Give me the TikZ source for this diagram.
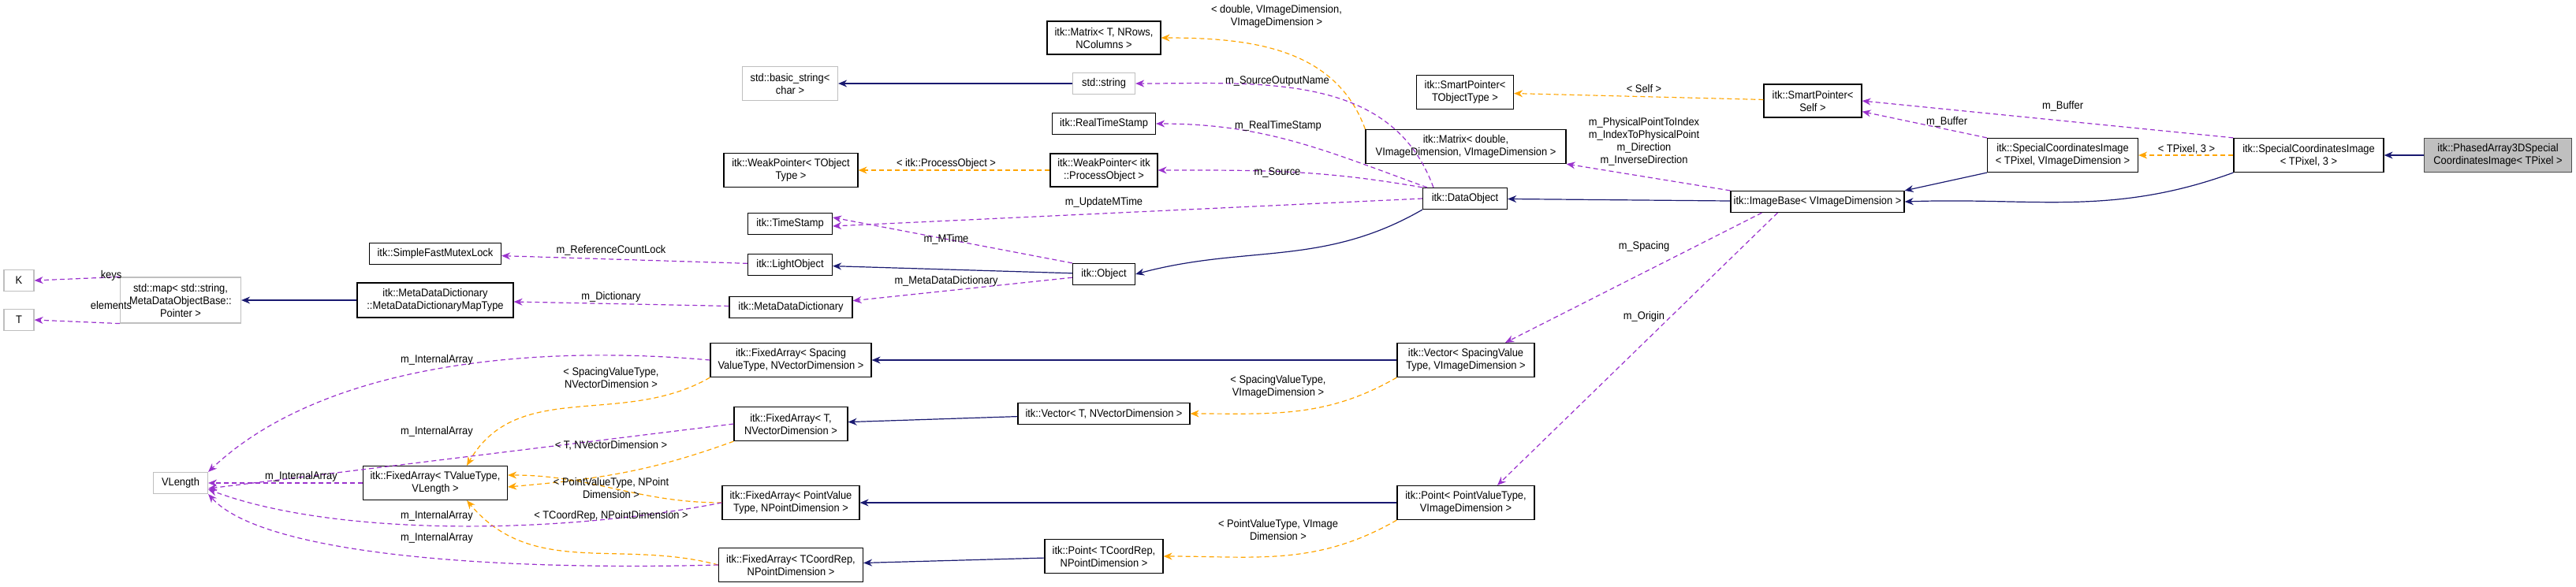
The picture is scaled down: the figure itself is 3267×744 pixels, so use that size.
\documentclass[tikz,border=0pt]{standalone}
\usepackage{fontspec}
\setmainfont{Liberation Sans}[FakeStretch=0.92]
\usetikzlibrary{arrows.meta}
\definecolor{inhc}{HTML}{191970}
\definecolor{tmpc}{HTML}{FFA500}
\definecolor{usec}{HTML}{9A32CD}
\begin{document}
\begin{tikzpicture}[x=1pt,y=-1pt,
  every node/.style={font=\fontsize{14}{16}\selectfont},
  cls/.style={draw=black,line width=1.2pt,fill=white,align=center,inner sep=2pt},
  ext/.style={draw=gray!50,line width=1.2pt,fill=white,align=center,inner sep=2pt},
  cur/.style={draw=black!70,line width=1.2pt,fill=gray!50,align=center,inner sep=2pt},
  lbl/.style={align=center,inner sep=0pt},
  inh/.style={draw=inhc,line width=1.2pt,-{Stealth[length=11pt,width=9pt]}},
  tmp/.style={draw=tmpc,line width=1.2pt,dash pattern=on 6pt off 4pt,-{Stealth[length=11pt,width=9pt]}},
  use/.style={draw=usec,line width=1.2pt,dash pattern=on 6pt off 4pt,-{Stealth[length=11pt,width=9pt]}}]
\useasboundingbox (0,0) rectangle (3267,744);
% nodes
\node[ext,minimum width=38,minimum height=27] (K) at (24,356) {K};
\node[ext,minimum width=38,minimum height=27] (T) at (24,406) {T};
\node[ext,minimum width=153,minimum height=58] (map) at (229,381) {std::map< std::string,\\ MetaDataObjectBase::\\ Pointer >};
\node[cls,minimum width=198,minimum height=44] (mdt) at (552,381) {itk::MetaDataDictionary\\ ::MetaDataDictionaryMapType};
\node[cls,minimum width=156,minimum height=27] (mdd) at (1003,390) {itk::MetaDataDictionary};
\node[cls,minimum width=167,minimum height=27] (mutex) at (552,322) {itk::SimpleFastMutexLock};
\node[cls,minimum width=107,minimum height=27] (light) at (1002,336) {itk::LightObject};
\node[cls,minimum width=107,minimum height=27] (ts) at (1002,284) {itk::TimeStamp};
\node[cls,minimum width=170,minimum height=43] (wpt) at (1003,216) {itk::WeakPointer< TObject\\ Type >};
\node[ext,minimum width=121,minimum height=43] (bstr) at (1002,106) {std::basic\_string<\\ char >};
\node[cls,minimum width=144,minimum height=42] (mtx) at (1400,48) {itk::Matrix< T, NRows,\\ NColumns >};
\node[ext,minimum width=79,minimum height=27] (str) at (1400,106) {std::string};
\node[cls,minimum width=131,minimum height=27] (rts) at (1400,157) {itk::RealTimeStamp};
\node[cls,minimum width=136,minimum height=42] (wpp) at (1400,216) {itk::WeakPointer< itk\\ ::ProcessObject >};
\node[cls,minimum width=79,minimum height=27] (obj) at (1400,348) {itk::Object};
\node[cls,minimum width=107,minimum height=27] (dobj) at (1858,252) {itk::DataObject};
\node[cls,minimum width=254,minimum height=43] (mtxd) at (1859,186) {itk::Matrix< double,\\ VImageDimension, VImageDimension >};
\node[cls,minimum width=123,minimum height=43] (spt) at (1858,117) {itk::SmartPointer<\\ TObjectType >};
\node[cls,minimum width=124,minimum height=42] (sps) at (2299,128) {itk::SmartPointer<\\ Self >};
\node[cls,minimum width=220,minimum height=27] (ib) at (2305,256) {itk::ImageBase< VImageDimension >};
\node[cls,minimum width=191,minimum height=43] (sciv) at (2616,197) {itk::SpecialCoordinatesImage\\ < TPixel, VImageDimension >};
\node[cls,minimum width=190,minimum height=43] (sci3) at (2928,197) {itk::SpecialCoordinatesImage\\ < TPixel, 3 >};
\node[cur,minimum width=187,minimum height=43] (pha) at (3168,197) {itk::PhasedArray3DSpecial\\ CoordinatesImage< TPixel >};
\node[cls,minimum width=204,minimum height=43] (fas) at (1003,457) {itk::FixedArray< Spacing\\ ValueType, NVectorDimension >};
\node[cls,minimum width=144,minimum height=43] (fat) at (1003,538) {itk::FixedArray< T,\\ NVectorDimension >};
\node[cls,minimum width=174,minimum height=43] (fap) at (1003,638) {itk::FixedArray< PointValue\\ Type, NPointDimension >};
\node[cls,minimum width=183,minimum height=43] (fac) at (1003,717) {itk::FixedArray< TCoordRep,\\ NPointDimension >};
\node[ext,minimum width=69,minimum height=27] (vl) at (229,613) {VLength};
\node[cls,minimum width=183,minimum height=43] (fav) at (552,613) {itk::FixedArray< TValueType,\\ VLength >};
\node[cls,minimum width=174,minimum height=43] (vs) at (1859,457) {itk::Vector< SpacingValue\\ Type, VImageDimension >};
\node[cls,minimum width=218,minimum height=27] (vt) at (1400,525) {itk::Vector< T, NVectorDimension >};
\node[cls,minimum width=174,minimum height=43] (pp) at (1859,638) {itk::Point< PointValueType,\\ VImageDimension >};
\node[cls,minimum width=150,minimum height=43] (pc) at (1400,706) {itk::Point< TCoordRep,\\ NPointDimension >};
% inheritance
\draw[inh] (str) -- (bstr);
\draw[inh] (obj) -- (light);
\draw[inh] (dobj.south west) to[out=210,in=15] (obj.east);
\draw[inh] (ib) -- (dobj);
\draw[inh] (sciv.south west) -- (ib.north east);
\draw[inh] (sci3.south west) to[out=200,in=2] (ib.east);
\draw[inh] (pha) -- (sci3);
\draw[inh] (mdt) -- (map);
\draw[inh] (vs) -- (fas);
\draw[inh] (vt) -- (fat);
\draw[inh] (pp) -- (fap);
\draw[inh] (pc) -- (fac);
% templates
\draw[tmp] (mtxd.north west) to[out=110,in=0] (mtx.east);
\draw[tmp] (sps) -- (spt);
\draw[tmp] (wpp) -- (wpt);
\draw[tmp] (sci3) -- (sciv);
\draw[tmp] (vs.south west) to[out=210,in=0] (vt.east);
\draw[tmp] (pp.south west) to[out=210,in=0] (pc.east);
\draw[tmp] (fas.south west) to[out=210,in=60] ([xshift=40pt]fav.north);
\draw[tmp] (fat.south west) to[out=200,in=5] ([yshift=-5pt]fav.east);
\draw[tmp] (fap.west) to[out=180,in=0] ([yshift=10pt]fav.east);
\draw[tmp] (fac.west) to[out=165,in=-50] ([xshift=40pt]fav.south);
% usage
\draw[use] (map.north west) -- (K.east);
\draw[use] (map.south west) -- (T.east);
\draw[use] (mdd) -- (mdt);
\draw[use] (obj) -- (mdd);
\draw[use] (light) -- (mutex);
\draw[use] (obj.north west) -- ([yshift=8pt]ts.east);
\draw[use] (dobj.west) -- ([yshift=-3pt]ts.east);
\draw[use] (dobj.north west) to[out=170,in=0] (wpp.east);
\draw[use] ([xshift=6pt]dobj.north west) to[out=160,in=0] (rts.east);
\draw[use] ([xshift=14pt]dobj.north west) to[out=110,in=0] (str.east);
\draw[use] (ib.north west) -- (mtxd.south east);
\draw[use] (sciv.north west) -- ([yshift=8pt]sps.south east);
\draw[use] (sci3.north west) -- (sps.east);
\draw[use] ([xshift=40pt]ib.south west) -- ([xshift=50pt]vs.north);
\draw[use] ([xshift=60pt]ib.south west) -- ([xshift=40pt]pp.north);
\draw[use] (fas.west) .. controls (650,435) and (400,470) .. (vl.north east);
\draw[use] (fat.west) -- ([yshift=-7pt]vl.east);
\draw[use] (fav) -- (vl);
\draw[use] (fap.west) .. controls (700,680) and (420,680) .. ([yshift=6pt]vl.south east);
\draw[use] (fac.west) .. controls (600,725) and (330,700) .. (vl.south east);
% labels
\node[lbl] (l1) at (141,350) {keys};
\node[lbl] (l2) at (141,387) {elements};
\node[lbl] (l3) at (775,318) {m\_ReferenceCountLock};
\node[lbl] (l4) at (775,377) {m\_Dictionary};
\node[lbl] (l5) at (1200,304) {m\_MTime};
\node[lbl] (l6) at (1200,357) {m\_MetaDataDictionary};
\node[lbl] (l7) at (1400,257) {m\_UpdateMTime};
\node[lbl] (l8) at (1200,208) {< itk::ProcessObject >};
\node[lbl] (l9) at (1620,219) {m\_Source};
\node[lbl] (l10) at (1621,160) {m\_RealTimeStamp};
\node[lbl] (l11) at (1620,103) {m\_SourceOutputName};
\node[lbl] (l12) at (1619,21) {< double, VImageDimension,\\ VImageDimension >};
\node[lbl] (l13) at (2085,112) {< Self >};
\node[lbl] (l14) at (2085,180) {m\_PhysicalPointToIndex\\ m\_IndexToPhysicalPoint\\ m\_Direction\\ m\_InverseDirection};
\node[lbl] (l15) at (2085,313) {m\_Spacing};
\node[lbl] (l16) at (2085,402) {m\_Origin};
\node[lbl] (l17) at (2616,135) {m\_Buffer};
\node[lbl] (l18) at (2469,155) {m\_Buffer};
\node[lbl] (l19) at (2773,189) {< TPixel, 3 >};
\node[lbl] (l20) at (1621,491) {< SpacingValueType,\\ VImageDimension >};
\node[lbl] (l21) at (1621,672) {< PointValueType, VImage\\ Dimension >};
\node[lbl] (l22) at (554,457) {m\_InternalArray};
\node[lbl] (l23) at (554,548) {m\_InternalArray};
\node[lbl] (l24) at (382,605) {m\_InternalArray};
\node[lbl] (l25) at (554,655) {m\_InternalArray};
\node[lbl] (l26) at (554,683) {m\_InternalArray};
\node[lbl] (l27) at (775,479) {< SpacingValueType,\\ NVectorDimension >};
\node[lbl] (l28) at (775,565) {< T, NVectorDimension >};
\node[lbl] (l29) at (775,619) {< PointValueType, NPoint\\ Dimension >};
\node[lbl] (l30) at (775,655) {< TCoordRep, NPointDimension >};
\end{tikzpicture}
\end{document}
